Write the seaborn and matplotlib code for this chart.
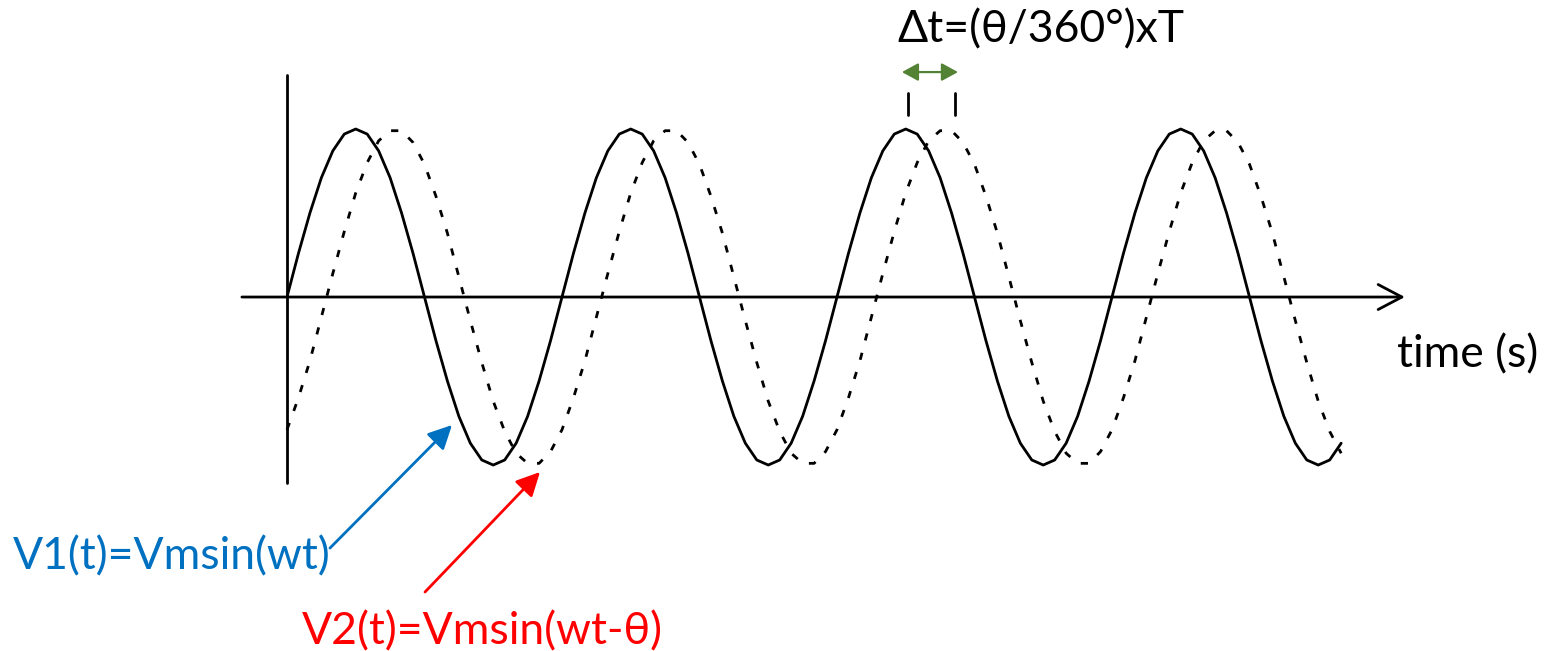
import numpy as np
import pandas as pd
import seaborn as sns
from matplotlib import pyplot as plt

# waveform samples, 24 samples per period (t in periods, v in Vm)
v1_vals = [
    0.00, 0.26, 0.50, 0.71, 0.87, 0.97, 1.00, 0.97, 0.87, 0.71, 0.50, 0.26,
    0.00, -0.26, -0.50, -0.71, -0.87, -0.97, -1.00, -0.97, -0.87, -0.71, -0.50, -0.26,
    0.00, 0.26, 0.50, 0.71, 0.87, 0.97, 1.00, 0.97, 0.87, 0.71, 0.50, 0.26,
    0.00, -0.26, -0.50, -0.71, -0.87, -0.97, -1.00, -0.97, -0.87, -0.71, -0.50, -0.26,
    0.00, 0.26, 0.50, 0.71, 0.87, 0.97, 1.00, 0.97, 0.87, 0.71, 0.50, 0.26,
    0.00, -0.26, -0.50, -0.71, -0.87, -0.97, -1.00, -0.97, -0.87, -0.71, -0.50, -0.26,
    0.00, 0.26, 0.50, 0.71, 0.87, 0.97, 1.00, 0.97, 0.87, 0.71, 0.50, 0.26,
    0.00, -0.26, -0.50, -0.71, -0.87, -0.97, -1.00, -0.97, -0.87,
]
v2_vals = [
    -0.79, -0.60, -0.38, -0.12, 0.14, 0.39, 0.62, 0.80, 0.93, 0.99, 0.99, 0.92,
    0.79, 0.60, 0.38, 0.12, -0.14, -0.39, -0.62, -0.80, -0.93, -0.99, -0.99, -0.92,
    -0.79, -0.60, -0.38, -0.12, 0.14, 0.39, 0.62, 0.80, 0.93, 0.99, 0.99, 0.92,
    0.79, 0.60, 0.38, 0.12, -0.14, -0.39, -0.62, -0.80, -0.93, -0.99, -0.99, -0.92,
    -0.79, -0.60, -0.38, -0.12, 0.14, 0.39, 0.62, 0.80, 0.93, 0.99, 0.99, 0.92,
    0.79, 0.60, 0.38, 0.12, -0.14, -0.39, -0.62, -0.80, -0.93, -0.99, -0.99, -0.92,
    -0.79, -0.60, -0.38, -0.12, 0.14, 0.39, 0.62, 0.80, 0.93, 0.99, 0.99, 0.92,
    0.79, 0.60, 0.38, 0.12, -0.14, -0.39, -0.62, -0.80, -0.93,
]
t_vals = np.arange(len(v1_vals)) / 24

# peaks used for the delta-t marker
delta_marks = [2.26, 2.43]

label_v1 = "V1(t)=Vmsin(wt)"
label_v2 = "V2(t)=Vmsin(wt-θ)"
label_dt = "Δt=(θ/360°)xT"
label_time = "time (s)"

sns.set_style("white")
plt.rcParams['font.family'] = ['Lato', 'DejaVu Sans']

fig = plt.figure(figsize=(15.44, 6.51), dpi=100)
ax = fig.add_axes([0, 0, 1, 1])
ax.set_axis_off()
ax.set_xlim(-1.0436, 4.5709)
ax.set_ylim(-2.107, 1.768)

lw = 2.0
sns.lineplot(x=t_vals, y=v1_vals, ax=ax, color='black', lw=lw, sort=False, estimator=None)
sns.lineplot(x=t_vals, y=v2_vals, ax=ax, color='black', lw=lw, sort=False, estimator=None,
             linestyle=(0, (2.6, 4.6)))

# hand-drawn axes
ax.plot([0, 0], [1.321, -1.107], color='black', lw=lw)
ax.annotate('', xy=(4.065, 0), xytext=(-0.164, 0),
            arrowprops=dict(arrowstyle='->,head_length=0.95,head_width=0.5',
                            lw=lw, color='black', mutation_scale=18,
                            shrinkA=0, shrinkB=0))

# delta t marker
for m in delta_marks:
    ax.plot([m, m], [1.214, 1.083], color='black', lw=lw)
ax.annotate('', xy=(2.44, 1.339), xytext=(2.236, 1.339),
            arrowprops=dict(arrowstyle='<|-|>,head_length=0.55,head_width=0.3',
                            lw=1.6, color='#548235', mutation_scale=18,
                            shrinkA=0, shrinkB=0))

W, H = 1544, 651
fs = 32
fig.text(897 / W, 1 - 30 / H, label_dt, fontsize=fs, color='black', va='center', ha='left')
fig.text(1397 / W, 1 - 355 / H, label_time, fontsize=fs, color='black', va='center', ha='left')
fig.text(13 / W, 1 - 557 / H, label_v1, fontsize=fs, color='#0070C0', va='center', ha='left')
fig.text(302 / W, 1 - 632 / H, label_v2, fontsize=fs, color='#FF0000', va='center', ha='left')

# pointer arrows
ax.annotate('', xy=((452 - 287) / 275, (297 - 425) / 168),
            xytext=((330 - 287) / 275, (297 - 548) / 168),
            arrowprops=dict(arrowstyle='-|>,head_length=0.8,head_width=0.4',
                            lw=2, color='#0070C0', mutation_scale=18,
                            shrinkA=0, shrinkB=0))
ax.annotate('', xy=((540 - 287) / 275, (297 - 472) / 168),
            xytext=((425 - 287) / 275, (297 - 592) / 168),
            arrowprops=dict(arrowstyle='-|>,head_length=0.8,head_width=0.4',
                            lw=2, color='#FF0000', mutation_scale=18,
                            shrinkA=0, shrinkB=0))

fig.savefig('out.png', dpi=100)
